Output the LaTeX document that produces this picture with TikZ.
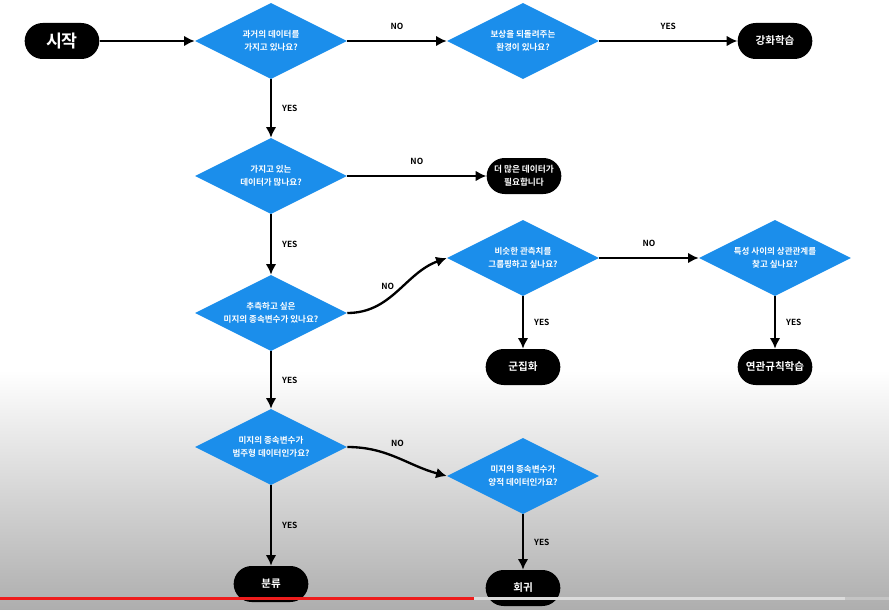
\documentclass[tikz,border=0pt]{standalone}
\usepackage{fontspec}
\setmainfont{Noto Sans CJK KR}[BoldFont={Noto Sans CJK KR Bold}]
\usetikzlibrary{arrows.meta,shapes.geometric}
\definecolor{ink}{HTML}{000000}
\definecolor{sky}{HTML}{1B8EEB}
\definecolor{shade}{HTML}{AEAEAE}
\definecolor{barred}{HTML}{EE1C1C}
\definecolor{barrest}{HTML}{DCDCDC}
\definecolor{barend}{HTML}{C4C4C4}
\tikzset{
  askbox/.style={diamond,aspect=2,fill=sky,text=white,inner sep=0pt,minimum width=114pt,minimum height=57pt,align=center,font=\fontsize{6.4}{10}\selectfont\bfseries},
  endbox/.style={fill=ink,text=white,rounded corners=13.5pt,minimum width=56pt,minimum height=27pt,inner sep=2pt,align=center,font=\fontsize{7.9}{10}\selectfont\bfseries},
  arrow/.style={-{Latex[length=8pt,width=8pt]},line width=1.75pt,draw=ink},
  tag/.style={font=\fontsize{6.3}{7}\selectfont\bfseries,inner sep=0pt,text=ink}
}

\begin{document}
\begin{tikzpicture}[x=0.75pt,y=-0.75pt]
    \useasboundingbox (0,0) rectangle (889,610);
    \fill[white] (0,0) rectangle (889,371);
    \shade[top color=white,bottom color=shade] (0,370) rectangle (889,610);

    \node[endbox,font=\fontsize{13}{14}\selectfont\bfseries] (start) at (62,41) {시작};
    \node[askbox] (past) at (271,41) {과거의 데이터를\\가지고 있나요?};
    \node[askbox] (reward) at (523,41) {보상을 되돌려주는\\환경이 있나요?};
    \node[endbox] (rl) at (775,41) {강화학습};
    \node[askbox] (many) at (271,176) {가지고 있는\\데이터가 많나요?};
    \node[endbox,font=\fontsize{6.5}{9.5}\selectfont\bfseries] (more) at (524,176) {더 많은 데이터가\\필요합니다};
    \node[askbox] (target) at (271,313) {추측하고 싶은\\미지의 종속변수가 있나요?};
    \node[askbox] (group) at (523,258) {비슷한 관측치를\\그룹핑하고 싶나요?};
    \node[endbox] (cluster) at (523,367) {군집화};
    \node[askbox] (assoc) at (775,258) {특성 사이의 상관관계를\\찾고 싶나요?};
    \node[endbox] (rules) at (775,367) {연관규칙학습};
    \node[askbox] (categ) at (271,447) {미지의 종속변수가\\범주형 데이터인가요?};
    \node[askbox] (quant) at (523,476) {미지의 종속변수가\\양적 데이터인가요?};
    \node[endbox] (classify) at (271,584) {분류};
    \node[endbox] (regress) at (523,588) {회귀};

    \draw[arrow] (start) -- (past);
    \draw[arrow] (past) -- node[tag,above=7.5pt] {NO} (reward);
    \draw[arrow] (reward) -- node[tag,above=7.5pt] {YES} (rl);
    \draw[arrow] (past) -- node[tag,right=7.5pt] {YES} (many);
    \draw[arrow] (many) -- node[tag,above=7.5pt] {NO} (more);
    \draw[arrow] (many) -- node[tag,right=7.5pt] {YES} (target);
    \draw[arrow] (target.east) to[out=0,in=200] node[tag,pos=0.5,anchor=south east,xshift=-2pt] {NO} (group.west);
    \draw[arrow] (group) -- node[tag,right=7.5pt] {YES} (cluster);
    \draw[arrow] (group) -- node[tag,above=7.5pt] {NO} (assoc);
    \draw[arrow] (assoc) -- node[tag,right=7.5pt] {YES} (rules);
    \draw[arrow] (target) -- node[tag,right=7.5pt] {YES} (categ);
    \draw[arrow] (categ.east) to[out=0,in=165] node[tag,pos=0.5,above=7pt] {NO} (quant.west);
    \draw[arrow] (categ) -- node[tag,right=7.5pt] {YES} (classify);
    \draw[arrow] (quant) -- node[tag,right=7.5pt] {YES} (regress);

    \fill[barred] (0,597) rectangle (474,600);
    \fill[barrest] (474,597) rectangle (845,600);
    \fill[barend] (845,597) rectangle (889,600);
\end{tikzpicture}
\end{document}
